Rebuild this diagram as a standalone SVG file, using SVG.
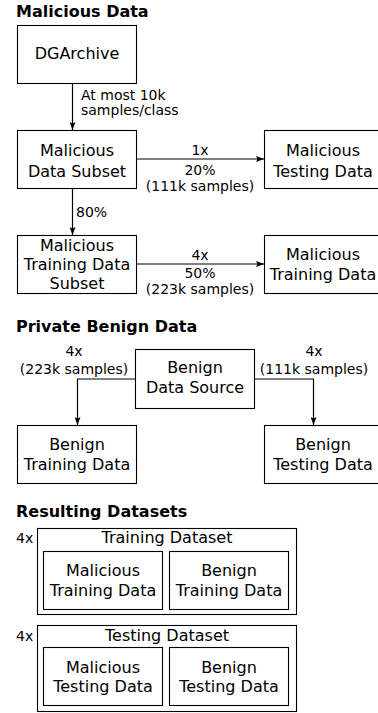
<svg xmlns="http://www.w3.org/2000/svg" width="378" height="713" viewBox="0 0 378 713">
<defs>
<marker id="arr" viewBox="0 0 8 6" refX="8" refY="3" markerWidth="8" markerHeight="6" markerUnits="userSpaceOnUse" orient="auto">
<path d="M0,0 L8,3 L0,6 L1.5,3 z" fill="#000"/>
</marker>
<style>
.box{fill:#fff;stroke:#000;stroke-width:1.1}
.t{font-family:"DejaVu Sans",sans-serif;font-size:16px;fill:#000;text-anchor:middle}
.l{font-family:"DejaVu Sans",sans-serif;font-size:14px;fill:#000;text-anchor:middle}
.ls{font-family:"DejaVu Sans",sans-serif;font-size:14px;fill:#000}
.h{font-family:"DejaVu Sans",sans-serif;font-size:16px;font-weight:bold;fill:#000}
.c{fill:none;stroke:#000;stroke-width:1.2}
</style>
</defs>
<rect width="378" height="713" fill="#fff"/>
<text class="h" x="16" y="17">Malicious Data</text>
<text class="h" x="16" y="332">Private Benign Data</text>
<text class="h" x="16" y="517">Resulting Datasets</text>

<g id="connectors">
<path class="c" d="M72.5,83.5 V130" marker-end="url(#arr)"/>
<text class="ls" x="81" y="100">At most 10k</text>
<text class="ls" x="81" y="115">samples/class</text>
<path class="c" d="M136.5,159 H264" marker-end="url(#arr)"/>
<text class="l" x="200" y="155">1x</text>
<text class="l" x="200" y="175">20%</text>
<text class="l" x="200" y="191">(111k samples)</text>
<path class="c" d="M72.5,188.5 V235" marker-end="url(#arr)"/>
<text class="ls" x="76" y="217">80%</text>
<path class="c" d="M136.5,264 H264" marker-end="url(#arr)"/>
<text class="l" x="200" y="260">4x</text>
<text class="l" x="200" y="278">50%</text>
<text class="l" x="200" y="294">(223k samples)</text>
<path class="c" d="M135,379 H77.5 V425" marker-end="url(#arr)"/>
<text class="l" x="74" y="356">4x</text>
<text class="l" x="74" y="374">(223k samples)</text>
<path class="c" d="M254,379 H313.5 V425" marker-end="url(#arr)"/>
<text class="l" x="314" y="356">4x</text>
<text class="l" x="314" y="374">(111k samples)</text>
</g>

<g id="dgarchive">
<rect class="box" x="17.5" y="25.5" width="119" height="58"/>
<text class="t" x="77" y="59">DGArchive</text>
</g>
<g id="mal-subset">
<rect class="box" x="17.5" y="130.5" width="119" height="58"/>
<text class="t" x="77" y="156">Malicious</text>
<text class="t" x="77" y="177">Data Subset</text>
</g>
<g id="mal-testing">
<rect class="box" x="264.5" y="130.5" width="119" height="58"/>
<text class="t" x="323" y="156">Malicious</text>
<text class="t" x="323" y="177">Testing Data</text>
</g>
<g id="mal-train-subset">
<rect class="box" x="17.5" y="235.5" width="119" height="58"/>
<text class="t" x="77" y="251">Malicious</text>
<text class="t" x="77" y="270">Training Data</text>
<text class="t" x="77" y="289">Subset</text>
</g>
<g id="mal-training">
<rect class="box" x="264.5" y="235.5" width="119" height="58"/>
<text class="t" x="323" y="260">Malicious</text>
<text class="t" x="323" y="280">Training Data</text>
</g>
<g id="benign-source">
<rect class="box" x="135.5" y="349.5" width="119" height="59"/>
<text class="t" x="195" y="373">Benign</text>
<text class="t" x="195" y="393">Data Source</text>
</g>
<g id="benign-training">
<rect class="box" x="17.5" y="425.5" width="119" height="58"/>
<text class="t" x="77" y="450">Benign</text>
<text class="t" x="77" y="470">Training Data</text>
</g>
<g id="benign-testing">
<rect class="box" x="264.5" y="425.5" width="119" height="58"/>
<text class="t" x="323" y="450">Benign</text>
<text class="t" x="323" y="470">Testing Data</text>
</g>

<g id="training-dataset">
<text class="ls" x="16" y="543">4x</text>
<rect class="box" x="37.5" y="528.5" width="259" height="86"/>
<text class="t" x="167" y="543">Training Dataset</text>
<g id="res-mal-training">
<rect class="box" x="43.5" y="551.5" width="119" height="58"/>
<text class="t" x="103" y="576">Malicious</text>
<text class="t" x="103" y="596">Training Data</text>
</g>
<g id="res-ben-training">
<rect class="box" x="169.5" y="551.5" width="119" height="58"/>
<text class="t" x="229" y="576">Benign</text>
<text class="t" x="229" y="596">Training Data</text>
</g>
</g>

<g id="testing-dataset">
<text class="ls" x="16" y="641">4x</text>
<rect class="box" x="37.5" y="625.5" width="259" height="86"/>
<text class="t" x="167" y="641">Testing Dataset</text>
<g id="res-mal-testing">
<rect class="box" x="43.5" y="647.5" width="119" height="58"/>
<text class="t" x="103" y="673">Malicious</text>
<text class="t" x="103" y="692">Testing Data</text>
</g>
<g id="res-ben-testing">
<rect class="box" x="169.5" y="647.5" width="119" height="58"/>
<text class="t" x="229" y="673">Benign</text>
<text class="t" x="229" y="692">Testing Data</text>
</g>
</g>
</svg>
